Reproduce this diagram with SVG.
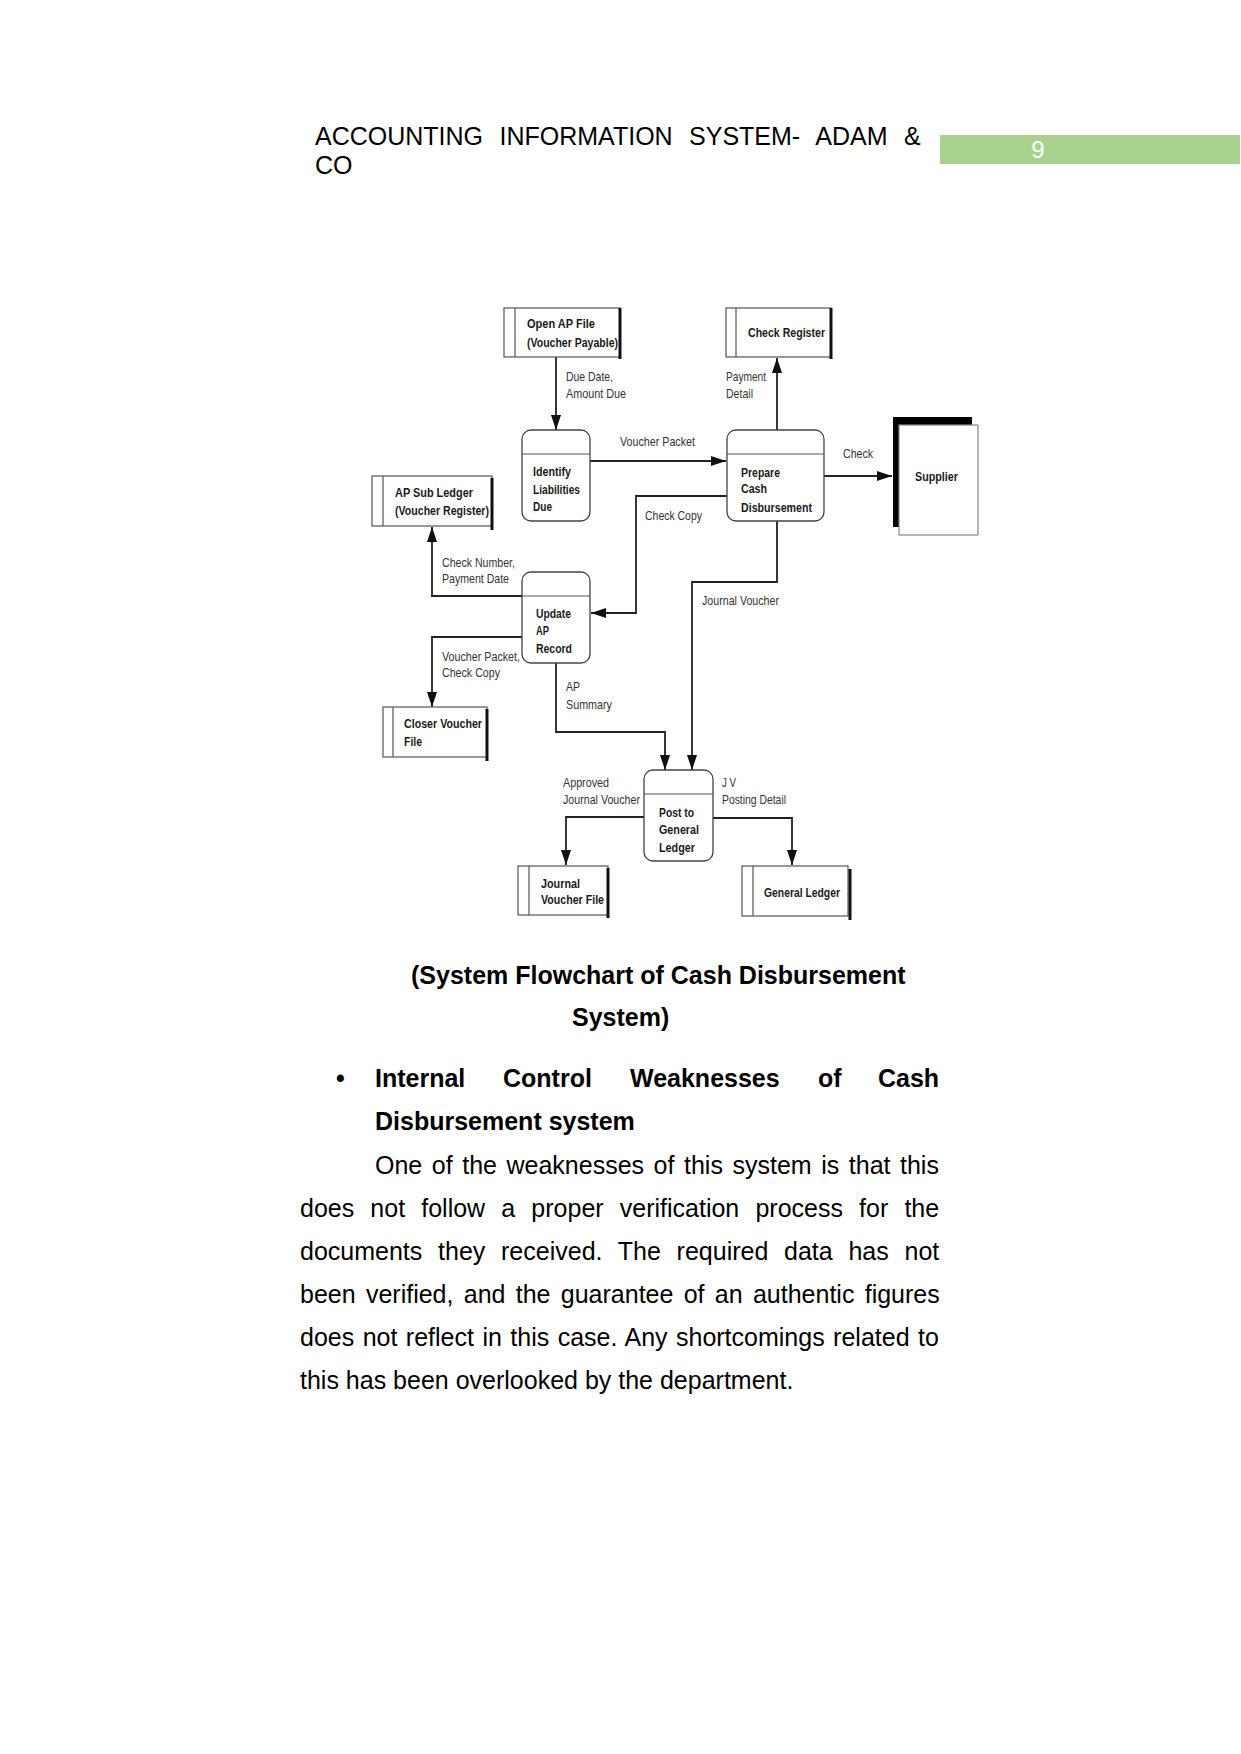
<svg xmlns="http://www.w3.org/2000/svg" width="1241" height="1754" viewBox="0 0 1241 1754">
<style>
.pg{font-family:"Liberation Sans",Arial,sans-serif;fill:#000}
.hd{font-size:25px}
.bd{font-size:25px}
.bb{font-size:25px;font-weight:bold}
.nt{font-family:"Liberation Sans",Arial,sans-serif;font-size:13.5px;font-weight:bold;fill:#1a1a1a}
.lb{font-family:"Liberation Sans",Arial,sans-serif;font-size:13px;fill:#333}
.box{fill:#fff;stroke:#555;stroke-width:1.2}
.thick{stroke:#111;stroke-width:3;fill:none}
.thin{stroke:#555;stroke-width:1.2;fill:none}
.proc{fill:#fff;stroke:#444;stroke-width:1.3}
.cn{fill:none;stroke:#222;stroke-width:1.8}
</style>
<defs>
<marker id="ah" markerUnits="userSpaceOnUse" markerWidth="15" markerHeight="11" refX="15" refY="5" orient="auto" viewBox="0 0 15 10">
<path d="M0,0 L15,5 L0,10 z" fill="#111"/>
</marker>
</defs>
<rect width="1241" height="1754" fill="#fff"/>

<!-- Header -->
<g id="header">
<text class="pg hd" x="315" y="145" word-spacing="9.5">ACCOUNTING INFORMATION SYSTEM- ADAM &amp;</text>
<text class="pg hd" x="315" y="174">CO</text>
<rect x="940" y="135" width="300" height="29" fill="#a9d18e"/>
<text x="1038" y="158" font-family="Liberation Sans, Arial, sans-serif" font-size="24" fill="#fff" text-anchor="middle">9</text>
</g>

<!-- Connectors -->
<g id="connectors">
<path class="cn" d="M556,357 V430" marker-end="url(#ah)"/>
<path class="cn" d="M590,461 H726" marker-end="url(#ah)"/>
<path class="cn" d="M777,430 V358" marker-end="url(#ah)"/>
<path class="cn" d="M824,476 H892" marker-end="url(#ah)"/>
<path class="cn" d="M727,496 H636 V613 H591" marker-end="url(#ah)"/>
<path class="cn" d="M777,521 V582 H692 V770" marker-end="url(#ah)"/>
<path class="cn" d="M522,596 H432 V527" marker-end="url(#ah)"/>
<path class="cn" d="M522,637 H432 V707" marker-end="url(#ah)"/>
<path class="cn" d="M556,663 V732 H665 V770" marker-end="url(#ah)"/>
<path class="cn" d="M644,817 H566 V865" marker-end="url(#ah)"/>
<path class="cn" d="M713,818 H792 V865" marker-end="url(#ah)"/>
</g>

<!-- Connector labels -->
<g id="labels">
<text class="lb" x="566" y="381" textLength="47" lengthAdjust="spacingAndGlyphs">Due Date,</text>
<text class="lb" x="566" y="398" textLength="60" lengthAdjust="spacingAndGlyphs">Amount Due</text>
<text class="lb" x="620" y="446" textLength="75" lengthAdjust="spacingAndGlyphs">Voucher Packet</text>
<text class="lb" x="726" y="381" textLength="40" lengthAdjust="spacingAndGlyphs">Payment</text>
<text class="lb" x="726" y="398" textLength="27" lengthAdjust="spacingAndGlyphs">Detail</text>
<text class="lb" x="843" y="458" textLength="30" lengthAdjust="spacingAndGlyphs">Check</text>
<text class="lb" x="645" y="520" textLength="57" lengthAdjust="spacingAndGlyphs">Check Copy</text>
<text class="lb" x="702" y="605" textLength="77" lengthAdjust="spacingAndGlyphs">Journal Voucher</text>
<text class="lb" x="442" y="567" textLength="73" lengthAdjust="spacingAndGlyphs">Check Number,</text>
<text class="lb" x="442" y="583" textLength="67" lengthAdjust="spacingAndGlyphs">Payment Date</text>
<text class="lb" x="442" y="661" textLength="78" lengthAdjust="spacingAndGlyphs">Voucher Packet,</text>
<text class="lb" x="442" y="677" textLength="58" lengthAdjust="spacingAndGlyphs">Check Copy</text>
<text class="lb" x="566" y="691" textLength="14" lengthAdjust="spacingAndGlyphs">AP</text>
<text class="lb" x="566" y="709" textLength="46" lengthAdjust="spacingAndGlyphs">Summary</text>
<text class="lb" x="563" y="787" textLength="46" lengthAdjust="spacingAndGlyphs">Approved</text>
<text class="lb" x="563" y="804" textLength="77" lengthAdjust="spacingAndGlyphs">Journal Voucher</text>
<text class="lb" x="722" y="787" textLength="14" lengthAdjust="spacingAndGlyphs">J V</text>
<text class="lb" x="722" y="804" textLength="64" lengthAdjust="spacingAndGlyphs">Posting Detail</text>
</g>

<!-- Data stores -->
<g id="open-ap-file">
<rect class="box" x="504" y="308" width="116" height="49"/>
<line class="thin" x1="515" y1="308" x2="515" y2="357"/>
<line class="thick" x1="620" y1="308" x2="620" y2="359"/>
<text class="nt" x="527" y="328" textLength="68" lengthAdjust="spacingAndGlyphs">Open AP File</text>
<text class="nt" x="527" y="347" textLength="91" lengthAdjust="spacingAndGlyphs">(Voucher Payable)</text>
</g>
<g id="check-register">
<rect class="box" x="726" y="308" width="105" height="49"/>
<line class="thin" x1="736" y1="308" x2="736" y2="357"/>
<line class="thick" x1="831" y1="308" x2="831" y2="359"/>
<text class="nt" x="748" y="337" textLength="77" lengthAdjust="spacingAndGlyphs">Check Register</text>
</g>
<g id="ap-sub-ledger">
<rect class="box" x="372" y="476" width="120" height="50"/>
<line class="thin" x1="383" y1="476" x2="383" y2="526"/>
<line class="thick" x1="492" y1="478" x2="492" y2="530"/>
<text class="nt" x="395" y="497" textLength="78" lengthAdjust="spacingAndGlyphs">AP Sub Ledger</text>
<text class="nt" x="395" y="515" textLength="94" lengthAdjust="spacingAndGlyphs">(Voucher Register)</text>
</g>
<g id="closer-voucher-file">
<rect class="box" x="383" y="707" width="104" height="50"/>
<line class="thin" x1="393" y1="707" x2="393" y2="757"/>
<line class="thick" x1="487" y1="709" x2="487" y2="761"/>
<text class="nt" x="404" y="728" textLength="78" lengthAdjust="spacingAndGlyphs">Closer Voucher</text>
<text class="nt" x="404" y="746" textLength="18" lengthAdjust="spacingAndGlyphs">File</text>
</g>
<g id="journal-voucher-file">
<rect class="box" x="518" y="866" width="90" height="49"/>
<line class="thin" x1="529" y1="866" x2="529" y2="915"/>
<line class="thick" x1="608" y1="868" x2="608" y2="918"/>
<text class="nt" x="541" y="888" textLength="39" lengthAdjust="spacingAndGlyphs">Journal</text>
<text class="nt" x="541" y="904" textLength="63" lengthAdjust="spacingAndGlyphs">Voucher File</text>
</g>
<g id="general-ledger">
<rect class="box" x="742" y="866" width="106" height="50"/>
<line class="thin" x1="753" y1="866" x2="753" y2="916"/>
<line class="thick" x1="850" y1="869" x2="850" y2="920"/>
<text class="nt" x="764" y="897" textLength="76" lengthAdjust="spacingAndGlyphs">General Ledger</text>
</g>

<!-- Processes -->
<g id="identify-liabilities">
<rect class="proc" x="522" y="430" width="68" height="91" rx="9"/>
<line class="thin" x1="522" y1="454" x2="590" y2="454"/>
<text class="nt" x="533" y="476" textLength="38" lengthAdjust="spacingAndGlyphs">Identify</text>
<text class="nt" x="533" y="494" textLength="47" lengthAdjust="spacingAndGlyphs">Liabilities</text>
<text class="nt" x="533" y="511" textLength="19" lengthAdjust="spacingAndGlyphs">Due</text>
</g>
<g id="prepare-cash">
<rect class="proc" x="727" y="430" width="97" height="91" rx="9"/>
<line class="thin" x1="727" y1="454" x2="824" y2="454"/>
<text class="nt" x="741" y="477" textLength="39" lengthAdjust="spacingAndGlyphs">Prepare</text>
<text class="nt" x="741" y="493" textLength="26" lengthAdjust="spacingAndGlyphs">Cash</text>
<text class="nt" x="741" y="512" textLength="71" lengthAdjust="spacingAndGlyphs">Disbursement</text>
</g>
<g id="update-ap">
<rect class="proc" x="522" y="572" width="68" height="91" rx="9"/>
<line class="thin" x1="522" y1="596" x2="590" y2="596"/>
<text class="nt" x="536" y="618" textLength="35" lengthAdjust="spacingAndGlyphs">Update</text>
<text class="nt" x="536" y="635" textLength="13" lengthAdjust="spacingAndGlyphs">AP</text>
<text class="nt" x="536" y="653" textLength="36" lengthAdjust="spacingAndGlyphs">Record</text>
</g>
<g id="post-gl">
<rect class="proc" x="644" y="770" width="69" height="91" rx="9"/>
<line class="thin" x1="644" y1="794" x2="713" y2="794"/>
<text class="nt" x="659" y="817" textLength="35" lengthAdjust="spacingAndGlyphs">Post to</text>
<text class="nt" x="659" y="834" textLength="40" lengthAdjust="spacingAndGlyphs">General</text>
<text class="nt" x="659" y="852" textLength="36" lengthAdjust="spacingAndGlyphs">Ledger</text>
</g>

<!-- Supplier -->
<g id="supplier">
<rect x="893" y="417" width="79" height="110" fill="#000"/>
<rect x="899" y="425" width="79" height="110" fill="#fff" stroke="#888" stroke-width="1.2"/>
<text class="nt" x="915" y="481" textLength="43" lengthAdjust="spacingAndGlyphs">Supplier</text>
</g>

<!-- Caption and body -->
<g id="body">
<text class="pg bb" x="411" y="984">(System Flowchart of Cash Disbursement</text>
<text class="pg bb" x="572" y="1026">System)</text>
<text class="pg bb" x="336" y="1087">•</text>
<text class="pg bb" x="375" y="1087">Internal</text>
<text class="pg bb" x="503" y="1087">Control</text>
<text class="pg bb" x="630" y="1087">Weaknesses</text>
<text class="pg bb" x="818" y="1087">of</text>
<text class="pg bb" x="878" y="1087">Cash</text>
<text class="pg bb" x="375" y="1130">Disbursement system</text>
<text class="pg bd" x="375" y="1174" word-spacing="2.6">One of the weaknesses of this system is that this</text>
<text class="pg bd" x="300" y="1217" word-spacing="9.2">does not follow a proper verification process for the</text>
<text class="pg bd" x="300" y="1260" word-spacing="8.8">documents they received. The required data has not</text>
<text class="pg bd" x="300" y="1303" word-spacing="3.35">been verified, and the guarantee of an authentic figures</text>
<text class="pg bd" x="300" y="1346" word-spacing="1.5">does not reflect in this case. Any shortcomings related to</text>
<text class="pg bd" x="300" y="1389">this has been overlooked by the department.</text>
</g>
</svg>
